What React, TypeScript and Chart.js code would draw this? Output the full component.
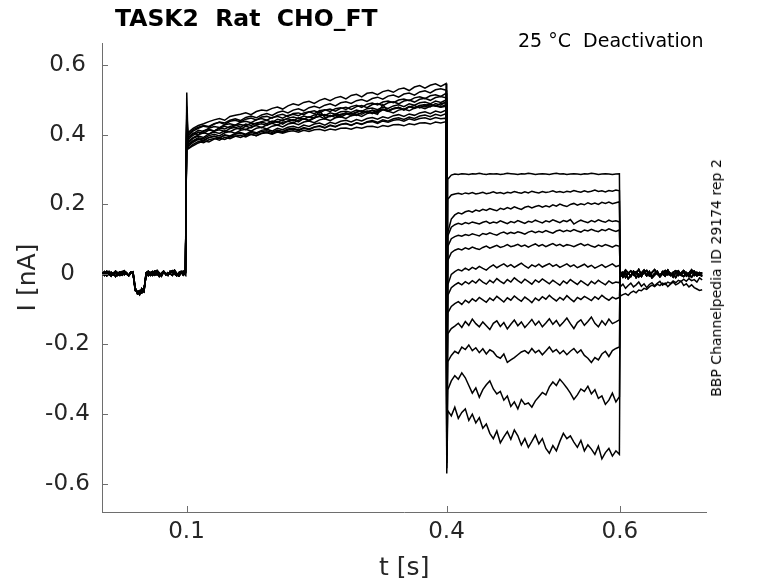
import { useEffect, useRef } from "react";
import { Chart, registerables, Plugin } from "chart.js";

Chart.register(...registerables);

// ---- recording layout (s) ----
const HOLD_SPAN = [0.003, 0.0988];
const ONSET_T = 0.1003;
const PRE_SPAN = [0.1015, 0.3995];
const TAIL_T = 0.4003;
const TEST_SPAN = [0.4015, 0.5995];
const POST_SPAN = [0.6005, 0.695];

const X_TICKS = [0.1, 0.4, 0.6];
const Y_TICKS = [-0.6, -0.4, -0.2, 0, 0.2, 0.4, 0.6];

// ---- currents, pA ----
const HOLD_A = [5, -3, 2, 8, -1, 4, -6, 3, 7, -2, 5, 1, -4, 6, 2, -42, -51, -47, -53, -44, -2, 6, -3, 4, 9, -1, 3, -5, 7, 2, -3, 6, 10, 1, -4, 5, 8, -2, 4];
const HOLD_B = [-2, 4, 9, 1, -5, 3, 6, -3, 2, 8, -1, 5, -4, 3, 7, -38, -55, -49, -45, -50, 1, -4, 5, 8, -2, 4, -6, 3, 9, -1, 5, 2, -3, 7, 1, -5, 4, 6, -1];
const HOLD_C = [3, 8, -4, 2, 6, -1, 9, 4, -3, 5, 10, 2, -2, 7, 4, -46, -49, -58, -41, -47, 5, 9, 2, -3, 6, 11, 4, -2, 8, 3, -1, 9, 5, 12, 2, -3, 6, 9, 8];

const ONSET_PEAK = [520, 470, 455, 480, 440, 460, 430, 450, 445, 425, 435, 440, 420];

const PREPULSE = [
  [405, 418, 426, 431, 437, 442, 446, 441, 452, 455, 458, 462, 457, 466, 470, 468, 475, 479, 473, 482, 488, 484, 492, 495, 489, 498, 503, 497, 505, 509, 502, 512, 515, 508, 518, 520, 514, 523, 527, 521, 530, 533, 526, 536, 540, 533, 541, 545, 538, 546],
  [395, 410, 418, 424, 421, 430, 436, 433, 441, 445, 440, 449, 453, 448, 456, 460, 455, 463, 467, 462, 470, 474, 468, 477, 481, 476, 484, 488, 482, 491, 494, 489, 497, 500, 495, 503, 507, 501, 510, 513, 507, 516, 519, 513, 522, 525, 519, 528, 531, 527],
  [390, 402, 412, 409, 418, 423, 420, 428, 431, 427, 435, 438, 434, 442, 446, 441, 449, 452, 447, 455, 458, 454, 462, 465, 460, 468, 471, 466, 474, 477, 472, 480, 484, 478, 487, 490, 485, 493, 496, 491, 499, 502, 497, 505, 508, 503, 511, 514, 509, 518],
  [400, 414, 421, 426, 423, 431, 435, 429, 438, 441, 436, 444, 447, 442, 450, 452, 447, 455, 458, 452, 460, 462, 457, 465, 468, 462, 470, 473, 467, 475, 478, 472, 480, 483, 477, 486, 489, 483, 491, 494, 488, 496, 499, 493, 501, 504, 498, 506, 509, 505],
  [385, 398, 407, 404, 413, 410, 419, 424, 418, 426, 429, 425, 433, 430, 437, 441, 435, 444, 440, 447, 450, 446, 453, 449, 456, 459, 454, 462, 458, 465, 467, 463, 470, 466, 474, 476, 471, 479, 475, 482, 485, 480, 488, 484, 491, 493, 488, 496, 492, 499],
  [380, 391, 399, 405, 401, 410, 414, 409, 417, 421, 415, 424, 419, 428, 431, 426, 434, 437, 430, 439, 443, 436, 446, 441, 449, 452, 445, 455, 449, 458, 461, 454, 463, 458, 466, 469, 462, 471, 467, 474, 477, 470, 480, 475, 483, 486, 479, 489, 484, 494],
  [375, 389, 396, 392, 402, 407, 403, 411, 408, 416, 419, 414, 422, 426, 420, 428, 432, 427, 435, 438, 433, 441, 445, 439, 447, 468, 449, 452, 456, 450, 458, 461, 455, 463, 467, 460, 469, 472, 466, 474, 477, 471, 479, 483, 476, 484, 487, 481, 489, 491],
  [370, 383, 391, 388, 397, 401, 396, 405, 409, 404, 412, 415, 410, 418, 421, 416, 424, 427, 422, 430, 433, 428, 436, 439, 434, 442, 445, 440, 448, 451, 446, 454, 457, 452, 460, 463, 458, 486, 467, 462, 470, 473, 468, 476, 479, 474, 481, 484, 479, 486],
  [390, 404, 400, 411, 415, 410, 419, 416, 423, 427, 421, 430, 426, 433, 436, 431, 439, 435, 442, 445, 439, 448, 444, 451, 447, 454, 457, 451, 459, 455, 462, 458, 465, 468, 462, 470, 466, 473, 469, 475, 478, 472, 480, 476, 483, 479, 485, 482, 478, 481],
  [365, 378, 386, 382, 391, 395, 390, 399, 396, 403, 406, 401, 409, 405, 412, 415, 410, 418, 414, 421, 424, 419, 427, 423, 430, 433, 427, 435, 431, 438, 441, 436, 443, 439, 446, 449, 444, 451, 447, 454, 457, 452, 459, 455, 462, 465, 460, 467, 463, 470],
  [360, 372, 380, 377, 385, 389, 384, 392, 388, 395, 398, 393, 401, 397, 404, 407, 402, 410, 406, 413, 416, 411, 418, 414, 421, 424, 419, 426, 422, 429, 432, 427, 434, 430, 437, 440, 435, 442, 438, 445, 448, 443, 450, 446, 453, 456, 451, 458, 454, 460],
  [370, 381, 388, 384, 392, 395, 391, 398, 394, 401, 404, 399, 406, 402, 409, 411, 406, 413, 409, 416, 418, 413, 420, 416, 422, 425, 420, 427, 423, 429, 431, 426, 433, 429, 435, 437, 432, 439, 435, 441, 443, 438, 445, 441, 446, 448, 443, 449, 445, 447],
  [358, 368, 376, 382, 379, 387, 390, 386, 393, 396, 392, 398, 401, 397, 403, 405, 401, 407, 404, 409, 411, 407, 412, 409, 414, 415, 411, 416, 413, 418, 419, 415, 421, 418, 423, 424, 420, 426, 423, 428, 429, 425, 431, 428, 433, 434, 430, 436, 433, 437],
];

const TAIL_PEAK = [-300, -330, -360, -390, -420, -440, -460, -480, -500, -520, -540, -555, -570];

const TEST = [
  [272, 284, 287, 286, 288, 287, 286, 288, 287, 289, 287, 286, 288, 287, 288, 286, 287, 289, 288, 287, 286, 288, 287, 289, 288, 286, 287, 288, 287, 286, 288, 289, 287, 288, 286, 287, 288, 287, 286, 288, 287, 289, 288, 286, 287, 288, 287, 286, 287, 288],
  [215, 227, 230, 232, 229, 233, 231, 234, 230, 232, 235, 231, 233, 236, 232, 234, 231, 235, 233, 237, 234, 232, 236, 233, 238, 235, 233, 237, 234, 236, 239, 235, 237, 234, 238, 236, 240, 237, 235, 239, 236, 238, 241, 237, 239, 236, 240, 238, 241, 239],
  [120, 158, 170, 176, 173, 179, 182, 178, 184, 181, 186, 183, 188, 185, 182, 189, 186, 191, 187, 193, 189, 186, 192, 195, 190, 194, 197, 192, 196, 193, 199, 195, 201, 197, 194, 200, 203, 198, 202, 199, 205, 201, 204, 200, 206, 203, 207, 202, 205, 208],
  [110, 135, 142, 146, 143, 148, 145, 150, 147, 144, 149, 152, 146, 150, 147, 153, 149, 145, 151, 148, 154, 150, 146, 152, 149, 155, 151, 147, 153, 150, 156, 152, 148, 154, 151, 157, 144, 150, 155, 151, 148, 154, 150, 156, 152, 149, 155, 151, 153, 150],
  [80, 102, 108, 112, 109, 114, 111, 116, 113, 110, 117, 114, 119, 115, 112, 118, 121, 116, 120, 117, 122, 119, 115, 121, 124, 119, 123, 120, 125, 121, 118, 124, 127, 122, 126, 123, 128, 124, 121, 127, 124, 129, 125, 122, 128, 125, 130, 126, 123, 127],
  [40, 62, 69, 73, 70, 76, 72, 78, 74, 71, 77, 81, 75, 79, 83, 77, 80, 85, 79, 82, 86, 80, 84, 78, 83, 87, 81, 85, 79, 84, 88, 82, 86, 80, 85, 83, 79, 84, 88, 82, 86, 81, 78, 84, 80, 85, 82, 78, 83, 80],
  [-30, 0, 8, 14, 10, 18, 12, 20, 15, 23, 17, 12, 21, 27, 19, 25, 30, 22, 28, 20, 26, 32, 24, 18, 27, 22, 29, 21, 26, 31, 23, 28, 20, 25, 30, 22, 27, 19, 24, 29, 21, 26, 18, 23, 28, 20, 25, 30, 22, 26],
  [-60, -38, -30, -24, -30, -21, -27, -18, -25, -14, -22, -28, -17, -24, -12, -20, -26, -15, -22, -10, -18, -25, -14, -21, -28, -16, -23, -13, -20, -27, -17, -24, -31, -19, -26, -15, -22, -29, -18, -25, -32, -20, -27, -17, -24, -30, -19, -26, -22, -24],
  [-110, -92, -84, -78, -86, -74, -81, -70, -77, -66, -73, -80, -68, -75, -63, -71, -79, -67, -74, -62, -70, -77, -65, -72, -81, -68, -75, -64, -71, -60, -69, -76, -66, -73, -61, -70, -78, -66, -72, -63, -69, -75, -64, -71, -60, -68, -74, -65, -70, -66],
  [-170, -155, -148, -140, -152, -135, -146, -128, -141, -150, -136, -147, -158, -140, -133, -149, -138, -156, -143, -131, -147, -136, -152, -141, -129, -145, -134, -150, -139, -127, -143, -132, -148, -137, -125, -141, -155, -138, -130, -146, -135, -122, -140, -150, -133, -145, -128, -141, -136, -130],
  [-250, -232, -220, -226, -208, -215, -202, -218, -210, -224, -213, -228, -216, -222, -235, -240, -228, -252, -245, -238, -230, -222, -218, -226, -212, -224, -217, -230, -219, -208, -222, -215, -227, -218, -230, -220, -212, -225, -216, -232, -240, -252, -238, -245, -228, -220, -235, -218, -212, -208],
  [-330, -305, -290, -300, -282, -296, -318, -340, -325, -352, -330, -316, -305, -328, -342, -335, -360, -348, -378, -365, -385, -358, -372, -368, -380, -362, -350, -338, -345, -322, -308, -318, -300, -312, -325, -340, -358, -345, -328, -335, -320, -342, -330, -355, -348, -372, -360, -340, -365, -350],
  [-390, -405, -380, -412, -395, -385, -418, -400, -425, -410, -440, -428, -455, -470, -448, -482, -465, -450, -472, -445, -462, -488, -470, -495, -478, -460, -485, -470, -498, -512, -490, -505, -478, -455, -470, -462, -480, -495, -475, -505, -488, -500, -515, -492, -528, -510, -498, -520, -505, -515],
];

const POST_A = [8, -3, 12, 4, -6, 9, 2, 14, -2, 7, 11, -4, 5, 13, 1, -5, 8, 3, 12, -1, 6, 10, -3, 4, 11, 2, -6, 7, 9, -2, 5, 3];
const POST_B = [-5, 6, -9, 3, 10, -2, 7, -7, 4, 12, -3, 8, -6, 2, 9, -4, 6, 11, -1, 3, -8, 5, 10, -2, 7, -5, 4, 13, -3, 6, -1, 2];
const POST_C = [2, -8, 4, -12, -3, 5, -9, 1, -6, 7, -4, 3, -10, -2, 6, -7, 2, -5, 8, -3, 1, -9, 4, -2, -6, 5, -1, -8, 3, -4, 0, -6];
const POST_LOW1 = [-62, -58, -55, -60, -52, -48, -53, -45, -47, -40, -43, -36, -31, -35, -28, -32, -25, -29, -22, -26, -19, -24, -17, -21, -14, -20, -12, -18, -15, -22, -10, -16];
const POST_LOW2 = [-35, -28, -40, -32, -25, -36, -30, -22, -34, -27, -38, -29, -24, -33, -26, -20, -31, -25, -35, -28, -22, -30, -26, -19, -32, -27, -36, -30, -38, -42, -46, -44];

const HOLD_SETS = [HOLD_A, HOLD_B, HOLD_C];
const POST_SETS = [POST_A, POST_B, POST_C, POST_LOW1, POST_LOW2];
const HOLD_OF_SWEEP = [0, 1, 2, 0, 1, 2, 0, 1, 2, 0, 1, 2, 0];
const POST_OF_SWEEP = [0, 1, 2, 0, 1, 2, 0, 1, 2, 0, 2, 4, 3];

const FONT = "'DejaVu Sans', sans-serif";
const AXIS_COLOR = "#6e6e6e";
const TEXT_COLOR = "#262626";

type Pt = { x: number; y: number };

// sample times of a segment
function sampleTimes(span: number[], n: number) {
  const out: number[] = [];
  for (let k = 0; k < n; k++) out.push(span[0] + ((span[1] - span[0]) * k) / (n - 1));
  return out;
}

function segment(span: number[], values: number[]): Pt[] {
  const t = sampleTimes(span, values.length);
  return values.map((v, k) => ({ x: t[k], y: v / 1000 }));
}

function sweep(i: number): Pt[] {
  return [
    ...segment(HOLD_SPAN, HOLD_SETS[HOLD_OF_SWEEP[i]]),
    { x: ONSET_T, y: ONSET_PEAK[i] / 1000 },
    ...segment(PRE_SPAN, PREPULSE[i]),
    { x: TAIL_T, y: TAIL_PEAK[i] / 1000 },
    ...segment(TEST_SPAN, TEST[i]),
    ...segment(POST_SPAN, POST_SETS[POST_OF_SWEEP[i]]),
  ];
}

// MATLAB-style ticks pointing into the plot
const innerTicks: Plugin = {
  id: "innerTicks",
  afterDraw(chart) {
    const { ctx, chartArea, scales } = chart;
    ctx.save();
    ctx.strokeStyle = AXIS_COLOR;
    ctx.lineWidth = 1;
    ctx.beginPath();
    scales.x.ticks.forEach((t) => {
      const px = Math.round(scales.x.getPixelForValue(t.value)) + 0.5;
      ctx.moveTo(px, chartArea.bottom);
      ctx.lineTo(px, chartArea.bottom - 6);
    });
    scales.y.ticks.forEach((t) => {
      const py = Math.round(scales.y.getPixelForValue(t.value)) + 0.5;
      ctx.moveTo(chartArea.left, py);
      ctx.lineTo(chartArea.left + 6, py);
    });
    ctx.stroke();
    ctx.restore();
  },
};

export default function App() {
  const canvasRef = useRef<HTMLCanvasElement>(null);

  useEffect(() => {
    if (!canvasRef.current) return;
    const chart = new Chart(canvasRef.current, {
      type: "line",
      data: {
        datasets: PREPULSE.map((_, i) => ({
          data: sweep(i),
          borderColor: "#000",
          borderWidth: 1.5,
          pointRadius: 0,
          tension: 0,
          fill: false,
        })),
      },
      options: {
        animation: false,
        responsive: false,
        devicePixelRatio: 1,
        events: [],
        layout: { padding: { top: 43, right: 71.5, left: 0, bottom: 0 } },
        plugins: { legend: { display: false }, tooltip: { enabled: false } },
        scales: {
          x: {
            type: "linear",
            min: 0.0025,
            max: 0.7,
            afterFit: (s) => {
              s.height = 71;
            },
            afterBuildTicks: (s) => {
              s.ticks = X_TICKS.map((v) => ({ value: v }));
            },
            grid: { display: true, drawOnChartArea: false, drawTicks: false },
            border: { display: true, color: AXIS_COLOR, width: 1 },
            ticks: {
              padding: 6,
              maxRotation: 0,
              autoSkip: false,
              color: TEXT_COLOR,
              font: { family: FONT, size: 23 },
              callback: (v) => String(v),
            },
            title: {
              display: true,
              text: "t [s]",
              color: TEXT_COLOR,
              font: { family: FONT, size: 25 },
              padding: { top: 0, bottom: 0 },
            },
          },
          y: {
            type: "linear",
            min: -0.68,
            max: 0.662,
            afterFit: (s) => {
              s.width = 102;
            },
            afterBuildTicks: (s) => {
              s.ticks = Y_TICKS.map((v) => ({ value: v }));
            },
            grid: { display: true, drawOnChartArea: false, drawTicks: false },
            border: { display: true, color: AXIS_COLOR, width: 1 },
            ticks: {
              padding: 12,
              crossAlign: "center",
              color: TEXT_COLOR,
              font: { family: FONT, size: 23 },
              callback: (v) => String(v),
            },
            title: {
              display: true,
              text: "I [nA]",
              color: TEXT_COLOR,
              font: { family: FONT, size: 25 },
              padding: { top: 13, bottom: 0 },
            },
          },
        },
      },
      plugins: [innerTicks],
    });
    return () => chart.destroy();
  }, []);

  return (
    <div style={{ position: "fixed", left: 0, top: 0, width: 778, height: 583, background: "#fff", fontFamily: FONT, color: "#000" }}>
      <canvas ref={canvasRef} width={778} height={583} style={{ position: "absolute", left: 0, top: 0 }} />
      <div style={{ position: "absolute", left: 115, top: 6.5, fontSize: 23.5, lineHeight: "23.5px", fontWeight: "bold", whiteSpace: "pre" }}>
        {"TASK2  Rat  CHO_FT"}
      </div>
      <div style={{ position: "absolute", left: 518, top: 31, fontSize: 19, lineHeight: "19px", whiteSpace: "pre" }}>
        {"25 °C  Deactivation"}
      </div>
      <div
        style={{
          position: "absolute",
          left: 716,
          top: 277.5,
          fontSize: 14,
          lineHeight: "14px",
          whiteSpace: "pre",
          transform: "translate(-50%, -50%) rotate(-90deg)",
        }}
      >
        BBP Channelpedia ID 29174 rep 2
      </div>
    </div>
  );
}
